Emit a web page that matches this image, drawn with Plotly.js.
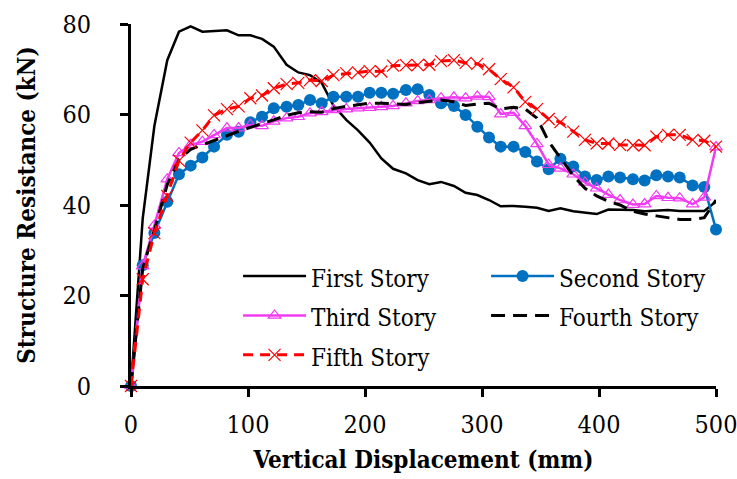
<!DOCTYPE html>
<html>
<head>
<meta charset="utf-8">
<script src="https://cdn.plot.ly/plotly-3.0.1.min.js"></script>
<style>html,body{margin:0;padding:0;background:#fff;}#chart{width:737px;height:479px;}</style>
</head>
<body>
<div id="chart"></div>
<script>
const displacement = [0,10,20,31,41,51,61,71,82,92,102,112,122,133,143,153,163,173,184,194,204,214,224,235,245,255,265,276,286,296,306,316,327,337,347,357,367,378,388,398,408,418,429,439,449,459,469,480,490,500];
const firstStory = [0,37,57.5,72,78.3,79.5,78.3,78.4,78.6,77.5,77.5,76.7,75,71,69.3,68.7,67,62,58.8,56.5,53.8,50.3,48,47,45.5,44.6,45.1,44.2,42.7,42.2,41.1,39.7,39.8,39.6,39.4,38.7,39.3,38.6,38.3,38,39,39,38.9,38.6,38.8,38.9,38.7,38.7,38.7,40.8];
const secondStory = [0,26.7,33.8,40.7,46.8,48.7,50.5,52.9,55.5,56.2,58.3,59.5,61.4,61.7,62.1,63.2,62.5,63.9,63.9,63.9,64.8,64.8,64.6,65.4,65.6,64.3,62.5,61.9,59.9,57.3,54.9,52.9,52.9,51.7,49.6,47.9,50.2,48.5,46.3,45.5,46.3,46.1,45.7,45.4,46.6,46.3,46.1,44.3,44,34.6];
const thirdStory = [0,26.5,35.5,45.7,51.5,53.3,54,55.5,57,57,57.7,57.5,58.5,59.2,59.5,60.3,60.6,61,61.2,61.4,61.5,61.7,61.9,62.5,63,63.2,63.6,63.8,63.6,64,63.9,60.1,60.4,57.5,53.5,48.9,48.1,46.8,45,43.7,42.3,41.1,40.1,40.2,42,41.6,41.5,40.2,41.7,52.8];
const fourthStory = [0,26,34.5,44.5,50,52.3,53.3,54.2,55.3,56.3,57.2,58,58.8,59.8,60.4,60.6,60.5,61.3,61.8,62.1,62.5,62.5,62.4,62.2,62.6,62.9,63.2,62.8,62,62.3,62.5,61.2,61.6,61.2,59.2,54,50.5,46.5,43.7,42,40.8,40,38.6,38,37.6,37.2,36.8,36.8,37.2,41.1];
const fifthStory = [0,23.6,33.8,42,49.8,53.8,56.5,59.8,61.2,61.8,63.6,64.2,65.8,66.7,67,67.6,67.4,68.7,69.1,69.3,69.6,69.5,70.8,70.9,70.9,71,71.8,72,71.4,71.2,70,67.8,66,62.8,61.2,59,58.3,56.2,54.4,53.6,53.6,53.3,53.2,53.2,55.1,55.5,55.5,54.4,54.2,52.9];
const seriesNames = ['First Story','Second Story','Third Story','Fourth Story','Fifth Story'];
const xTicks = [0,100,200,300,400,500];
const yTicks = [0,20,40,60,80];

const FONT = '"DejaVu Serif Condensed", "DejaVu Serif", serif';
const legendLabel = s => '<span style="font-size:24px">' + s + '</span>';

const traces = [
  {x: displacement, y: firstStory, name: legendLabel(seriesNames[0]), mode: 'lines', legendwidth: 170,
   line: {color: '#000000', width: 2.5}},
  {x: displacement, y: secondStory, name: legendLabel(seriesNames[1]), mode: 'lines+markers', legendwidth: 150,
   line: {color: '#0070C0', width: 2.5},
   marker: {symbol: 'circle', size: 12, color: '#0070C0'}},
  {x: displacement, y: thirdStory, name: legendLabel(seriesNames[2]), mode: 'lines+markers', legendwidth: 170,
   line: {color: '#F03CF0', width: 2.5},
   marker: {symbol: 'triangle-up-open', size: 11, color: '#F03CF0', line: {width: 1.2, color: '#F03CF0'}}},
  {x: displacement, y: fourthStory, name: legendLabel(seriesNames[3]), mode: 'lines', legendwidth: 150,
   line: {color: '#000000', width: 3, dash: '14px,8px'}},
  {x: displacement, y: fifthStory, name: legendLabel(seriesNames[4]), mode: 'lines+markers', legendwidth: 170,
   line: {color: '#FF0000', width: 3, dash: '10px,7px'},
   marker: {symbol: 'x-thin-open', size: 12, color: '#FF0000', line: {width: 1.2, color: '#FF0000'}}}
];
traces.forEach(t => t.cliponaxis = false);

const layout = {
  width: 737, height: 479,
  margin: {l: 131, r: 21, t: 24, b: 93},
  paper_bgcolor: '#ffffff', plot_bgcolor: '#ffffff',
  font: {family: FONT, color: '#000000', size: 25},
  showlegend: true,
  legend: {
    orientation: 'h', x: 0.183, y: 0.372, xanchor: 'left', yanchor: 'top',
    entrywidthmode: 'pixels', itemwidth: 63,
    bgcolor: 'rgba(0,0,0,0)', font: {family: FONT, size: 28, color: '#000'},
    traceorder: 'normal'
  },
  xaxis: {
    range: [0, 500], tickvals: xTicks, ticktext: xTicks.map(String),
    showgrid: false, zeroline: false, showline: true, linecolor: '#000', linewidth: 3,
    ticks: 'outside', ticklen: 8, tickwidth: 3, tickcolor: '#000',
    ticklabelstandoff: 6, ticklabeloverflow: 'allow',
    tickfont: {family: FONT, size: 25, color: '#000'},
    title: {text: 'Vertical Displacement (mm)', standoff: 14,
            font: {family: FONT, size: 24, color: '#000', weight: 'bold'}}
  },
  yaxis: {
    range: [0, 80], tickvals: yTicks, ticktext: yTicks.map(String),
    showgrid: false, zeroline: false, showline: true, linecolor: '#000', linewidth: 3,
    ticks: 'outside', ticklen: 8, tickwidth: 3, tickcolor: '#000',
    ticklabelstandoff: 24, ticklabeloverflow: 'allow',
    tickfont: {family: FONT, size: 25, color: '#000'},
    title: {text: 'Structure Resistance (kN)', standoff: 20,
            font: {family: FONT, size: 24, color: '#000', weight: 'bold'}}
  }
};

Plotly.newPlot('chart', traces, layout, {displayModeBar: false, staticPlot: true});
</script>
</body>
</html>
